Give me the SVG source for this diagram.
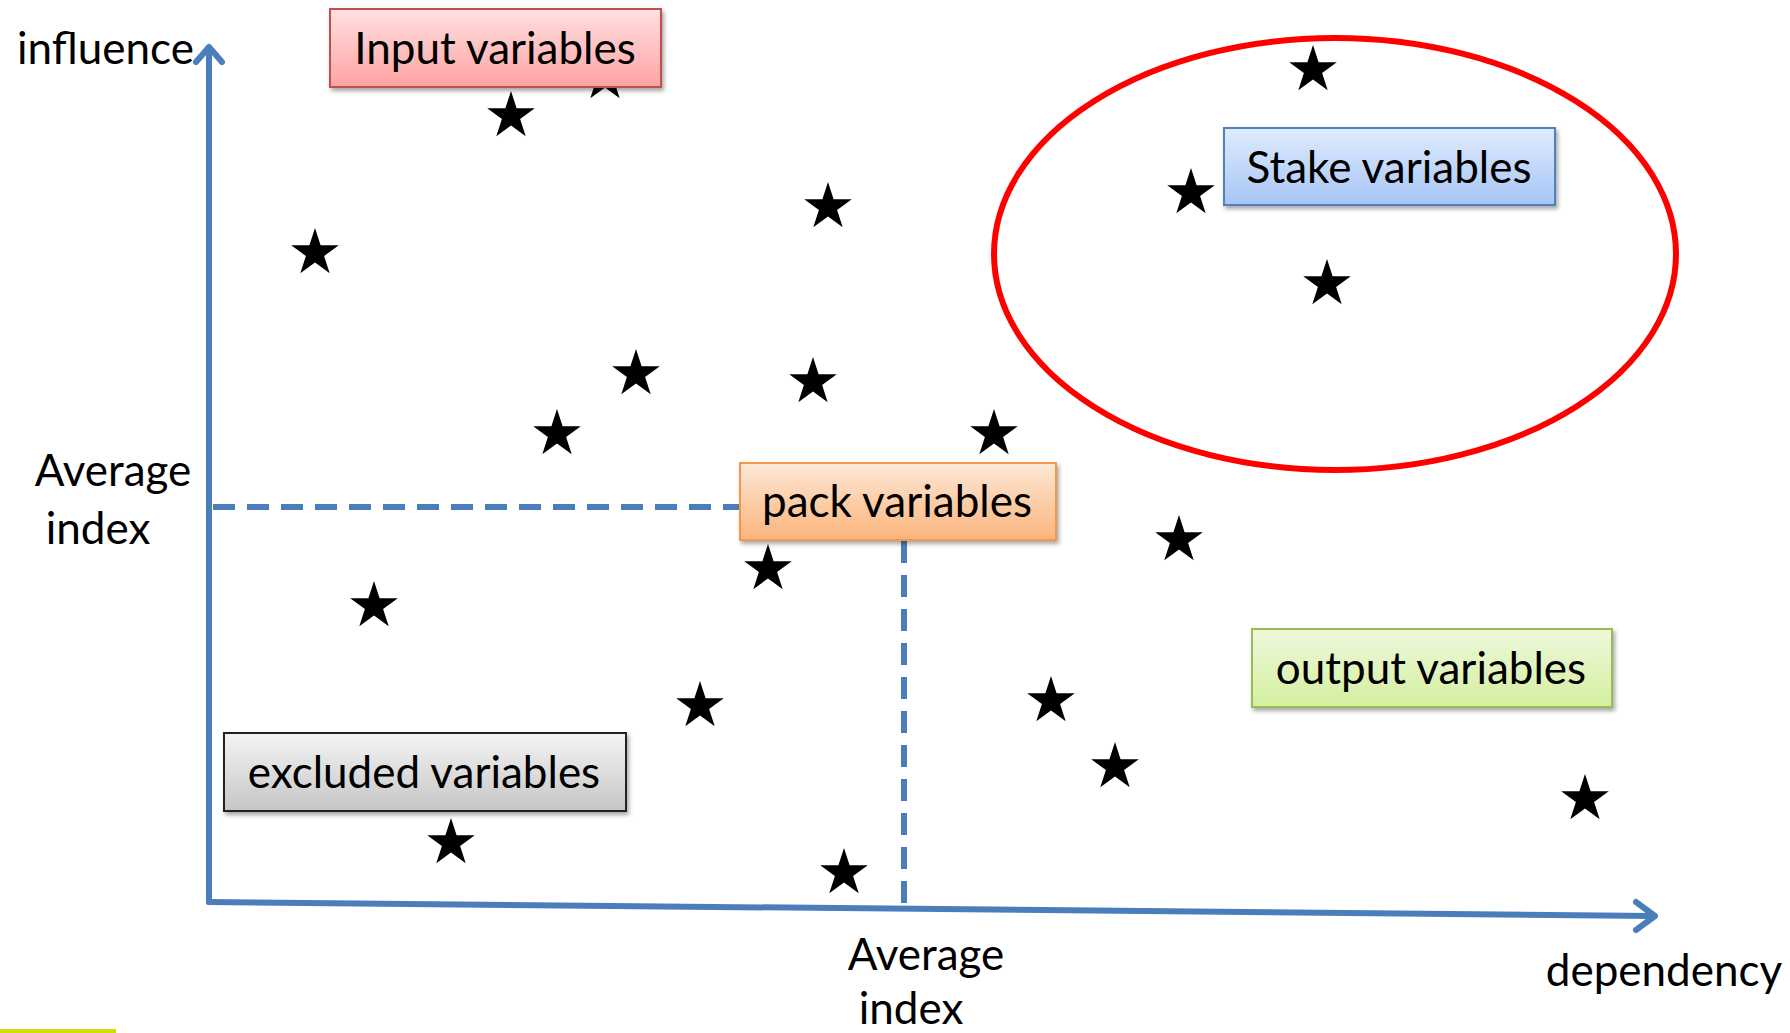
<svg xmlns="http://www.w3.org/2000/svg" width="1790" height="1033" viewBox="0 0 1790 1033">
<style>
.lbl{font-family:Lato,"Open Sans",sans-serif;font-size:44px;fill:#000}
.box{stroke-width:2;filter:url(#sh)}
.ax{stroke:#4a7ebb;stroke-width:6;fill:none;stroke-linecap:round;stroke-linejoin:round}
.dash{stroke:#4a7ebb;stroke-width:6;fill:none;stroke-dasharray:22 12}
</style>
<defs>
<path id="star" d="M0,-25 L5.6,-7.7 L23.8,-7.7 L9.1,3 L14.7,20.2 L0,9.5 L-14.7,20.2 L-9.1,3 L-23.8,-7.7 L-5.6,-7.7 Z" fill="#000"/>
<filter id="sh" x="-10%" y="-20%" width="130%" height="150%"><feDropShadow dx="2" dy="3" stdDeviation="2" flood-color="#000" flood-opacity="0.35"/></filter>
<linearGradient id="gRed" x1="0" y1="0" x2="0" y2="1"><stop offset="0" stop-color="#ffe0e0"/><stop offset="1" stop-color="#ffa3a3"/></linearGradient>
<linearGradient id="gBlue" x1="0" y1="0" x2="0" y2="1"><stop offset="0" stop-color="#e0ebfc"/><stop offset="1" stop-color="#a6c5f6"/></linearGradient>
<linearGradient id="gOr" x1="0" y1="0" x2="0" y2="1"><stop offset="0" stop-color="#fde8d6"/><stop offset="1" stop-color="#fbb47c"/></linearGradient>
<linearGradient id="gGr" x1="0" y1="0" x2="0" y2="1"><stop offset="0" stop-color="#eef8dc"/><stop offset="1" stop-color="#d4ef9f"/></linearGradient>
<linearGradient id="gGy" x1="0" y1="0" x2="0" y2="1"><stop offset="0" stop-color="#f4f4f4"/><stop offset="1" stop-color="#c6c6c6"/></linearGradient>
</defs>
<rect width="1790" height="1033" fill="#fff"/>
<rect x="0" y="1029" width="116" height="4" fill="#cde000"/>

<g id="connectors">
<path class="ax" d="M209,902 L209,48"/>
<path class="ax" d="M196,62 L209,47 L222,62"/>
<path class="ax" d="M209,902 L1653,916"/>
<path class="ax" d="M1636,902 L1655,916 L1636,930"/>
<path class="dash" d="M213,507 L740,507"/>
<path class="dash" d="M904,541 L904,910"/>
<ellipse cx="1335" cy="254" rx="341" ry="216" fill="none" stroke="#ff0000" stroke-width="6"/>
</g>

<g id="stars">
<use href="#star" x="605" y="78"/>
<use href="#star" x="511" y="116"/>
<use href="#star" x="315" y="253"/>
<use href="#star" x="828" y="207"/>
<use href="#star" x="636" y="374"/>
<use href="#star" x="813" y="382"/>
<use href="#star" x="557" y="434"/>
<use href="#star" x="994" y="434"/>
<use href="#star" x="1313" y="70"/>
<use href="#star" x="1191" y="193"/>
<use href="#star" x="1327" y="284"/>
<use href="#star" x="1179" y="540"/>
<use href="#star" x="768" y="569"/>
<use href="#star" x="374" y="606"/>
<use href="#star" x="700" y="706"/>
<use href="#star" x="1051" y="701"/>
<use href="#star" x="1115" y="767"/>
<use href="#star" x="1585" y="799"/>
<use href="#star" x="451" y="843"/>
<use href="#star" x="844" y="873"/>
</g>

<g id="input">
<rect class="box" x="330" y="9" width="331" height="78" fill="url(#gRed)" stroke="#c0504d"/>
<text class="lbl" x="495" y="64" text-anchor="middle">Input variables</text>
</g>
<g id="stake">
<rect class="box" x="1224" y="128" width="331" height="77" fill="url(#gBlue)" stroke="#4f81bd"/>
<text class="lbl" x="1389" y="183" text-anchor="middle">Stake variables</text>
</g>
<g id="pack">
<rect class="box" x="740" y="463" width="316" height="77" fill="url(#gOr)" stroke="#f79646"/>
<text class="lbl" x="897" y="517" text-anchor="middle">pack variables</text>
</g>
<g id="output">
<rect class="box" x="1252" y="629" width="360" height="78" fill="url(#gGr)" stroke="#9bbb59"/>
<text class="lbl" x="1431" y="684" text-anchor="middle">output variables</text>
</g>
<g id="excluded">
<rect class="box" x="224" y="733" width="402" height="78" fill="url(#gGy)" stroke="#222"/>
<text class="lbl" x="424" y="788" text-anchor="middle">excluded variables</text>
</g>

<g id="labels">
<text class="lbl" x="17" y="64">influence</text>
<text class="lbl" x="113" y="486" text-anchor="middle">Average</text>
<text class="lbl" x="98" y="544" text-anchor="middle">index</text>
<text class="lbl" x="926" y="970" text-anchor="middle">Average</text>
<text class="lbl" x="911" y="1024" text-anchor="middle">index</text>
<text class="lbl" x="1664" y="986" text-anchor="middle">dependency</text>
</g>
</svg>
